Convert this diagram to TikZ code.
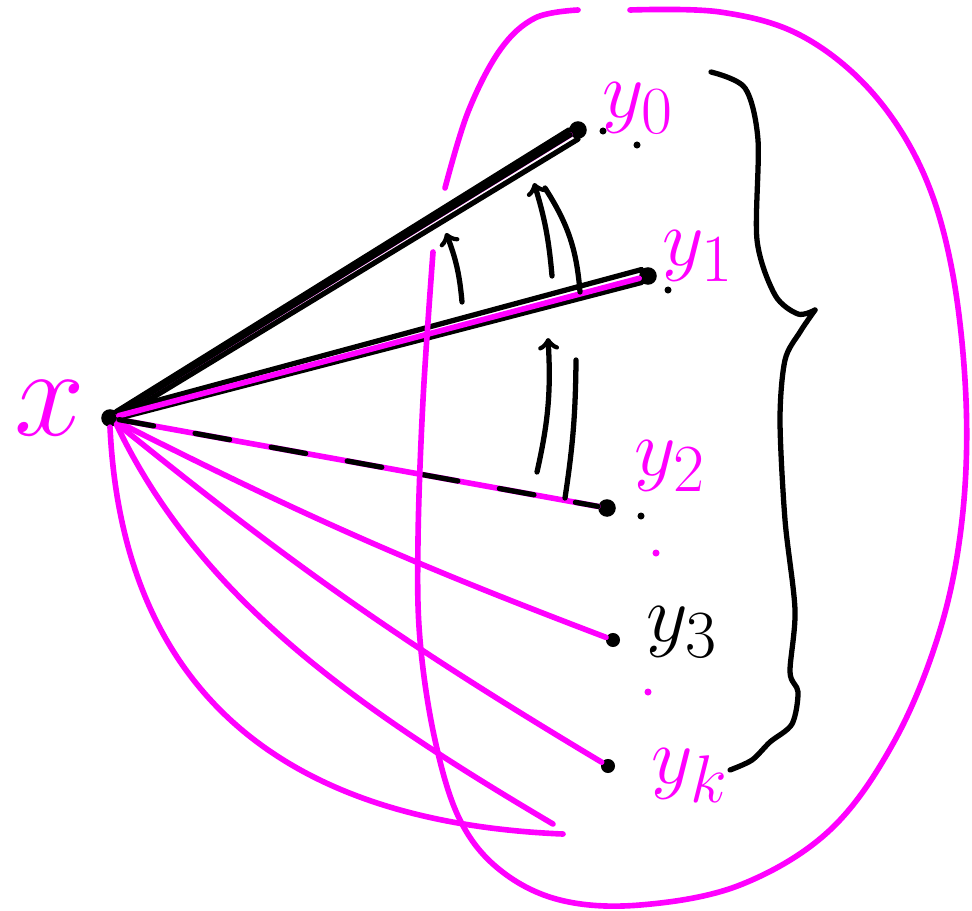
\documentclass[tikz,border=0pt]{standalone}
\usepackage{amsmath, amssymb}
\usepackage{graphicx}
\usepackage{tikz}
\usetikzlibrary{positioning}
\usepackage{xcolor}
\definecolor{pen}{RGB}{255,0,255}
\newcommand{\handlab}[2][1.85]{\scalebox{#1}{$#2$}}

\tikzset{
  dot/.style={circle, fill, inner sep=0pt, minimum size=10pt},
  speck/.style={circle, fill, inner sep=0pt, minimum size=4pt},
  pink/.style={pen, line width=3.2pt, line cap=round},
  ink/.style={black, line width=3pt, line cap=round},
  lab/.style={pen, font=\Huge},
}

\begin{document}
\begin{tikzpicture}[x=0.02cm, y=-0.02cm]
        \useasboundingbox (0,0) rectangle (972,910);

        % Points
        \node[dot] (x)  at (110,418) {};
        \node[dot] (y0) at (578,130) {};
        \node[dot] (y1) at (648,276) {};
        \node[dot] (y2) at (607,508) {};
        \node[dot, minimum size=8pt] (y3) at (613,640) {};
        \node[dot, minimum size=8pt] (yk) at (608,766) {};

        % Labels
        \node[lab] (lx) at (50,408) {\handlab[2.9]{x}};
        \node[lab] (l0) at (638,108) {\handlab{y_0}};
        \node[lab] (l1) at (698,256) {\handlab{y_1}};
        \node[lab] (l2) at (670,466) {\handlab{y_2}};
        \node[lab, black] (l3) at (682,632) {\handlab{y_3}};
        \node[lab] (lk) at (690,776) {\handlab{y_k}};

        % Specks
        \node[speck] (s0) at (603,131) {};
        \node[speck] (s1) at (637,145) {};
        \node[speck] (s2) at (668,290) {};
        \node[speck] (s3) at (641,516) {};
        \node[speck, pen] (s4) at (656,553) {};
        \node[speck, pen] (s5) at (648,692) {};

        % Magenta rays
        \draw[pink] (x) -- (y0);
        \draw[pink] (x) -- (y2);
        \draw[pink] (x) to[bend right=3] (y3);
        \draw[pink] (x) to[bend right=4] (yk);

        % Black rays
        \draw[ink] (x.north east) -- (y0.west);
        \draw[ink] (x) -- (y0);
        \draw[ink] (x.east) -- (y0.south);
        \draw[ink] (x.north east) -- (y1.north west);
        \draw[ink] (x.east) -- (y1.south west);
        \draw[pink] (x) -- (y1);
        \draw[ink, dash pattern=on 20pt off 24pt] (x) -- (y2);

        % Long magenta arcs
        \coordinate (e1) at (553,824);
        \coordinate (e2) at (563,834);
        \draw[pink] (x.south east) .. controls (200,600) and (360,710) .. (e1);
        \draw[pink] (x.south) .. controls (120,640) and (230,820) .. (e2);

        % Enclosing loop
        \draw[pink] plot[smooth, tension=0.6] coordinates {(445,188) (468,112) (500,50) (535,18) (578,10)};
        \draw[pink] plot[smooth, tension=0.6] coordinates {(630,10) (720,12) (800,35) (870,90) (922,170)
            (952,270) (966,400) (962,520) (940,630) (895,740) (830,830) (740,885) (640,905) (560,900)
            (500,870) (460,820) (435,740) (420,640) (418,540) (423,400) (433,252)};

        % Brace
        \draw[ink] plot[smooth, tension=0.5] coordinates {(711,72) (745,88) (758,140) (757,240) (775,295) (798,314) (815,310)};
        \draw[ink] plot[smooth, tension=0.5] coordinates {(815,310) (800,332) (785,360) (780,420) (785,520) (795,610)
            (790,672) (798,692) (792,724) (770,742) (752,760) (730,770)};

        % Angle arrows
        \coordinate (a1) at (462,302);
        \coordinate (b1) at (446,233);
        \draw[ink, ->] (a1) to[bend right=8] (b1);
        \coordinate (a2) at (552,276);
        \coordinate (b2) at (534,183);
        \draw[ink, ->] (a2) to[bend right=6] (b2);
        \coordinate (a3) at (580,292);
        \coordinate (b3) at (545,188);
        \draw[ink] (a3) to[bend right=14] (b3);
        \coordinate (a4) at (537,472);
        \coordinate (b4) at (548,338);
        \draw[ink, ->] (a4) to[bend right=8] (b4);
        \coordinate (a5) at (565,498);
        \coordinate (b5) at (576,360);
        \draw[ink] (a5) to[bend right=4] (b5);
\end{tikzpicture}
\end{document}
